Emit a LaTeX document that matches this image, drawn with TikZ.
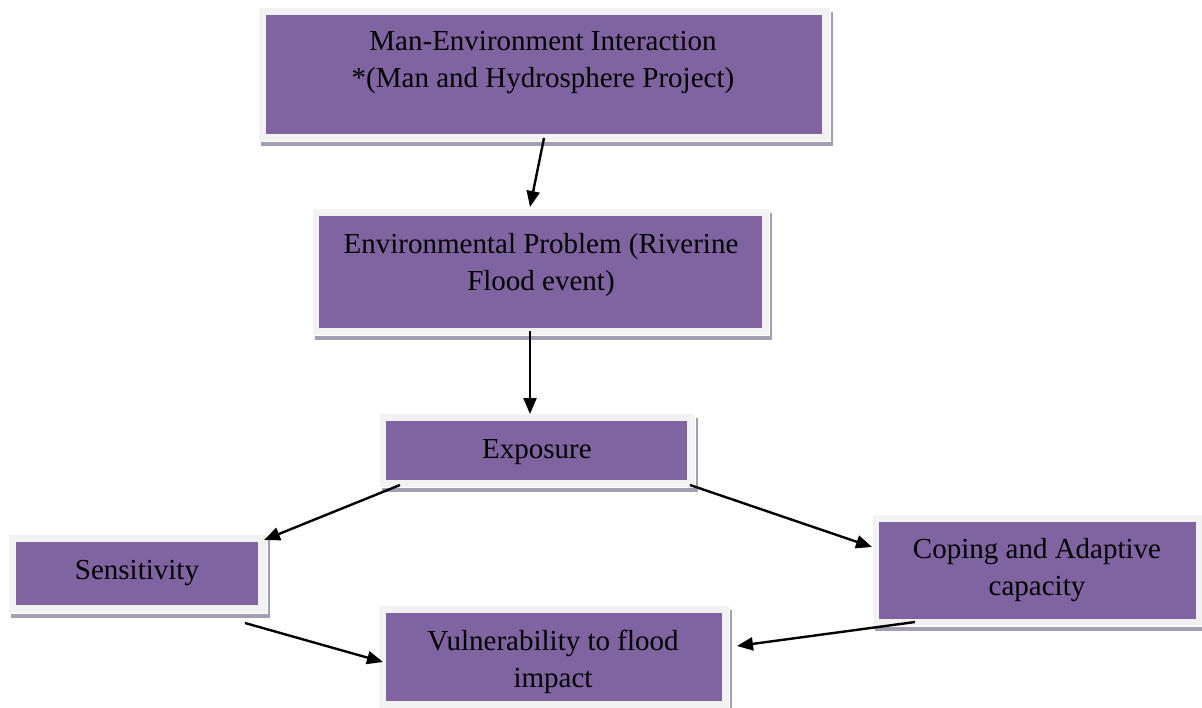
\documentclass[tikz,border=0pt]{standalone}
\usepackage{fontspec}
\setmainfont{Liberation Serif}
\usetikzlibrary{arrows.meta,shadows}
\definecolor{boxpurple}{HTML}{8064A2}
\definecolor{boxframe}{HTML}{F2F2F2}
\definecolor{boxshadow}{HTML}{A59DB4}
\tikzset{
  framebox/.style={rectangle, fill=boxframe, draw=white, line width=0.8pt, inner sep=0pt,
    drop shadow={shadow xshift=3pt, shadow yshift=-5pt, fill=boxshadow, opacity=1}},
  innerbox/.style={rectangle, fill=boxpurple, draw=none, inner sep=0pt},
  label/.style={align=center, text=black, font=\fontsize{29}{37}\selectfont, inner sep=0pt},
  conn/.style={line width=2.4pt, -{Triangle[length=16pt,width=13pt]}}
}
\begin{document}
\begin{tikzpicture}[x=1pt,y=-1pt]
\useasboundingbox (0,0) rectangle (1202,707);
% boxes
\node[framebox, minimum width=572, minimum height=134] (top) at (544,74) {};
\node[innerbox, minimum width=556, minimum height=119] (topin) at (544,74.5) {};
\node[framebox, minimum width=457, minimum height=127] (env) at (540.5,271.5) {};
\node[innerbox, minimum width=443, minimum height=112] (envin) at (540.5,272) {};
\node[framebox, minimum width=316, minimum height=74] (exp) at (537,450) {};
\node[innerbox, minimum width=301, minimum height=59] (expin) at (536.5,450.5) {};
\node[framebox, minimum width=259, minimum height=79] (sens) at (137.5,573.5) {};
\node[innerbox, minimum width=242, minimum height=63] (sensin) at (137,573.5) {};
\node[framebox, minimum width=332, minimum height=112] (cop) at (1038,570) {};
\node[innerbox, minimum width=317, minimum height=97] (copin) at (1037.5,570.5) {};
\node[framebox, minimum width=351, minimum height=104] (vul) at (553.5,657) {};
\node[innerbox, minimum width=336, minimum height=88] (vulin) at (554,657) {};
% texts
\node[label] (toptxt) at (543,63) {Man-Environment Interaction\\ *(Man and Hydrosphere Project)};
\node[label] (envtxt) at (541,265) {Environmental Problem (Riverine\\ Flood event)};
\node[label] (exptxt) at (537,452) {Exposure};
\node[label] (senstxt) at (137,573) {Sensitivity};
\node[label] (coptxt) at (1037,570) {Coping and Adaptive\\ capacity};
\node[label] (vultxt) at (553,662) {Vulnerability to flood\\ impact};
% connector ends
\coordinate (a1s) at (544,138); \coordinate (a1e) at (530,207);
\coordinate (a2s) at (530,331); \coordinate (a2e) at (530,414);
\coordinate (a3s) at (400,485); \coordinate (a3e) at (264,540);
\coordinate (a4s) at (690,485); \coordinate (a4e) at (872,547);
\coordinate (a5s) at (245,623); \coordinate (a5e) at (383,662);
\coordinate (a6s) at (915,622); \coordinate (a6e) at (737,646);
\draw[conn] (a1s) -- (a1e);
\draw[conn] (a2s) -- (a2e);
\draw[conn] (a3s) -- (a3e);
\draw[conn] (a4s) -- (a4e);
\draw[conn] (a5s) -- (a5e);
\draw[conn] (a6s) -- (a6e);
\end{tikzpicture}
\end{document}
